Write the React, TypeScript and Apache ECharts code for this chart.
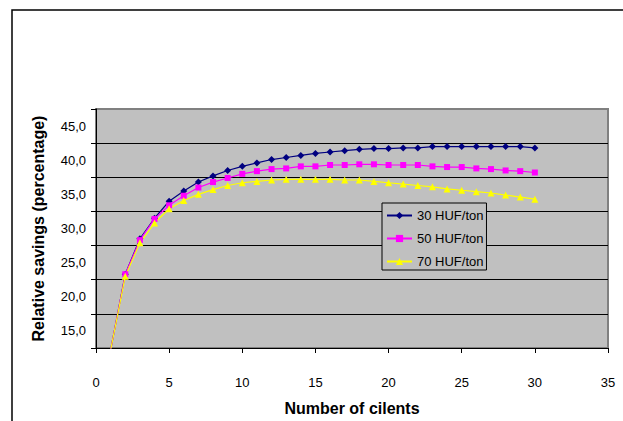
import React, { useEffect, useRef } from "react";
import * as echarts from "echarts";

const xValues = [1, 2, 3, 4, 5, 6, 7, 8, 9, 10, 11, 12, 13, 14, 15, 16, 17, 18, 19, 20, 21, 22, 23, 24, 25, 26, 27, 28, 29, 30];
const series30 = [12.2, 23.3, 28.5, 31.5, 34.0, 35.5, 36.8, 37.7, 38.5, 39.1, 39.6, 40.1, 40.4, 40.7, 41.0, 41.2, 41.4, 41.6, 41.7, 41.7, 41.8, 41.8, 42.0, 42.0, 42.0, 42.0, 42.0, 42.0, 42.0, 41.8];
const series50 = [12.2, 23.3, 28.3, 31.4, 33.4, 34.8, 36.0, 36.8, 37.4, 38.0, 38.4, 38.7, 38.8, 39.1, 39.1, 39.3, 39.3, 39.4, 39.4, 39.3, 39.3, 39.3, 39.1, 39.0, 39.0, 38.8, 38.7, 38.5, 38.4, 38.2];
const series70 = [12.2, 23.0, 27.9, 30.8, 32.9, 34.1, 35.0, 35.7, 36.3, 36.7, 36.9, 37.1, 37.2, 37.2, 37.2, 37.2, 37.1, 37.1, 36.9, 36.7, 36.5, 36.3, 36.1, 35.8, 35.6, 35.4, 35.2, 34.9, 34.6, 34.3];
const seriesNames = ["30 HUF/ton", "50 HUF/ton", "70 HUF/ton"];
const yLabelValues = [15, 20, 25, 30, 35, 40, 45];

const FONT = "'Liberation Sans', Arial, sans-serif";

export default function App() {
  const ref = useRef<HTMLDivElement>(null);
  useEffect(() => {
    if (!ref.current) return;
    const chart = echarts.init(ref.current, null, { renderer: "svg" });
    const pairs = (ys: number[]) => xValues.map((x, i) => [x, ys[i]]);
    const mk = (name: string, ys: number[], color: string, symbol: string, size: number) => ({
      name,
      type: "line",
      data: pairs(ys),
      symbol,
      symbolSize: size,
      clip: true,
      lineStyle: { color, width: 1.2 },
      itemStyle: { color },
    });
    chart.setOption({
      animation: false,
      backgroundColor: "#ffffff",
      textStyle: { fontFamily: FONT },
      graphic: [
        {
          type: "rect",
          shape: { x: 12, y: 10, width: 700, height: 500 },
          style: { fill: "none", stroke: "#000", lineWidth: 1.5 },
          silent: true,
        },
      ],
      grid: {
        left: 96,
        top: 109,
        right: 15,
        bottom: 71,
        show: true,
        backgroundColor: "#C0C0C0",
        borderColor: "#808080",
        borderWidth: 2,
      },
      legend: {
        orient: "vertical",
        left: 382,
        top: 203,
        itemWidth: 25,
        itemHeight: 9,
        itemGap: 8,
        padding: [5, 3, 1, 4],
        backgroundColor: "#C0C0C0",
        borderColor: "#000",
        borderWidth: 1,
        borderRadius: 0,
        textStyle: { fontFamily: FONT, fontSize: 13, color: "#000", lineHeight: 15 },
        data: seriesNames,
      },
      xAxis: {
        type: "value",
        min: 0,
        max: 35,
        interval: 5,
        name: "Number of cilents",
        nameLocation: "middle",
        nameGap: 52,
        nameTextStyle: { fontFamily: FONT, fontSize: 16, fontWeight: "bold", color: "#000" },
        axisLine: { show: true, onZero: false, lineStyle: { color: "#000", width: 1 } },
        axisTick: { show: true, inside: false, length: 5, lineStyle: { color: "#000" } },
        axisLabel: { fontFamily: FONT, fontSize: 13, color: "#000", margin: 28 },
        splitLine: { show: false },
      },
      yAxis: {
        type: "value",
        min: 12.5,
        max: 47.5,
        interval: 5,
        name: "Relative savings (percentage)",
        nameLocation: "middle",
        nameGap: 50,
        nameTextStyle: { fontFamily: FONT, fontSize: 16, fontWeight: "bold", color: "#000" },
        axisLine: { show: true, onZero: false, lineStyle: { color: "#000", width: 1 } },
        axisTick: { show: true, inside: false, length: 5, lineStyle: { color: "#000" } },
        axisLabel: {
          fontFamily: FONT,
          fontSize: 13,
          color: "#000",
          margin: 10,
          customValues: yLabelValues,
          formatter: (v: number) => v.toFixed(1).replace(".", ","),
        },
        splitLine: {
          show: true,
          showMaxLine: false,
          lineStyle: { color: ["#000", "#000", "#000", "#000", "#000", "#000", "#000", "#808080"], width: 1 },
        },
      },
      series: [
        mk(seriesNames[0], series30, "#000080", "diamond", 7),
        mk(seriesNames[1], series50, "#FF00FF", "rect", 6),
        mk(seriesNames[2], series70, "#FFFF00", "triangle", 7),
      ],
    });
    return () => chart.dispose();
  }, []);
  return <div ref={ref} style={{ position: "absolute", left: 0, top: 0, width: 623, height: 421 }} />;
}
